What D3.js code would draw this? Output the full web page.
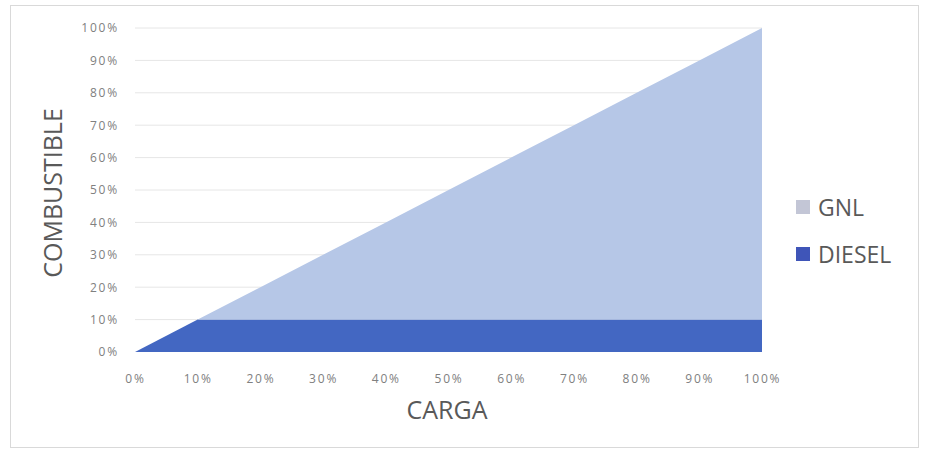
<!DOCTYPE html>
<html><head><meta charset="utf-8">
<script src="https://cdn.jsdelivr.net/npm/d3@7"></script>
<style>body{margin:0;background:#fff}svg{display:block}text{font-family:"Open Sans","Noto Sans",sans-serif}</style>
</head><body>
<svg id="c" width="925" height="452"></svg>
<script>
const carga = [0,10,20,30,40,50,60,70,80,90,100];
const diesel = [0,10,10,10,10,10,10,10,10,10,10];
const gnl = [0,0,10,20,30,40,50,60,70,80,90];
const xTicks = [0,10,20,30,40,50,60,70,80,90,100];
const yTicks = [0,10,20,30,40,50,60,70,80,90,100];
const seriesNames = ["DIESEL","GNL"];
const colors = {DIESEL:"#4367c2", GNL:"#b6c7e7"};
const legendColors = {GNL:"#c3c6d6", DIESEL:"#3f55b8"};

const svg = d3.select("#c");
svg.append("rect").attr("x",10.5).attr("y",5.5).attr("width",908).attr("height",442)
  .attr("fill","#fff").attr("stroke","#d9d9d9");

const x = d3.scaleLinear().domain([0,100]).range([135,762]);
const y = d3.scaleLinear().domain([0,100]).range([352,28]);

const g = svg.append("g");
g.selectAll("line.grid").data(yTicks.slice(1)).join("line")
  .attr("x1",135).attr("x2",762).attr("y1",d=>y(d)).attr("y2",d=>y(d))
  .attr("stroke","#e6e6e6").attr("stroke-width",1);

const table = carga.map((c,i)=>({carga:c, DIESEL:diesel[i], GNL:gnl[i]}));
const stacked = d3.stack().keys(seriesNames)(table);
const area = d3.area().x(d=>x(d.data.carga)).y0(d=>y(d[0])).y1(d=>y(d[1]));
g.selectAll("path.a").data(stacked).join("path")
  .attr("d",area).attr("fill",d=>colors[d.key]);

const xa = svg.append("g").attr("transform","translate(0,352)")
  .call(d3.axisBottom(x).tickValues(xTicks).tickFormat(d=>d+"%").tickSize(0).tickPadding(22));
xa.select(".domain").remove();
xa.selectAll("text").attr("fill","#808080").style("font-size","12px").style("letter-spacing","1.8px");

const ya = svg.append("g").attr("transform","translate(119,0)")
  .call(d3.axisLeft(y).tickValues(yTicks).tickFormat(d=>d+"%").tickSize(0).tickPadding(0));
ya.select(".domain").remove();
ya.selectAll("text").attr("fill","#808080").style("font-size","12px").style("letter-spacing","1.8px");

svg.append("text").attr("x",447).attr("y",419).attr("text-anchor","middle")
  .attr("fill","#595959").style("font-size","25px").text("CARGA");
svg.append("text").attr("transform","translate(62,193) rotate(-90)").attr("text-anchor","middle")
  .attr("fill","#595959").style("font-size","25px").text("COMBUSTIBLE");

const legendItems = ["GNL","DIESEL"];
const lg = svg.append("g");
legendItems.forEach((k,i)=>{
  const yy = 207 + i*47;
  lg.append("rect").attr("x",796).attr("y",yy-7).attr("width",14).attr("height",14).attr("fill",legendColors[k]);
  lg.append("text").attr("x",818).attr("y",yy+8.5).attr("fill","#595959").style("font-size","23px").text(k);
});
</script>
</body></html>
